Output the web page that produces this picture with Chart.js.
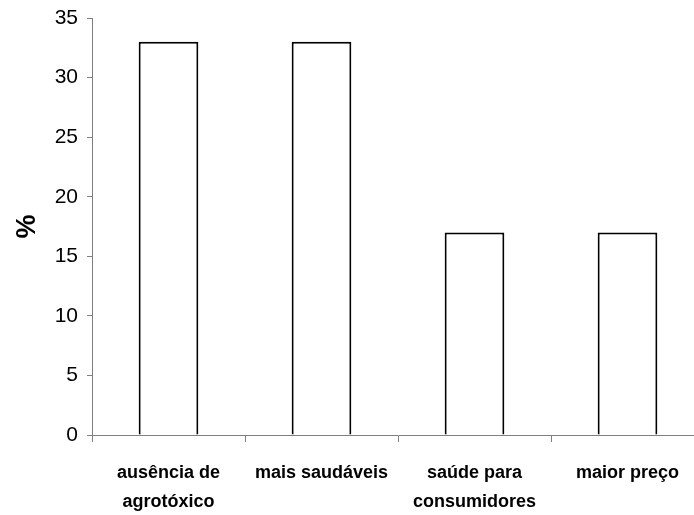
<!DOCTYPE html>
<html>
<head>
<meta charset="utf-8">
<script src="https://cdn.jsdelivr.net/npm/chart.js@4/dist/chart.umd.min.js"></script>
<style>
  html, body { margin: 0; padding: 0; background: #fff; overflow: hidden; }
  #wrap { width: 710px; height: 515px; position: relative; }
</style>
</head>
<body>
<div id="wrap"><canvas id="c"></canvas></div>
<script>
// Reasons given, share of respondents (%)
const categories = [
  ['ausência de', 'agrotóxico'],
  'mais saudáveis',
  ['saúde para', 'consumidores'],
  'maior preço'
];
const percentValues = [33, 33, 17, 17];
const yTicks = [0, 5, 10, 15, 20, 25, 30, 35];

const FONT = '"Liberation Sans Narrow", "Liberation Sans", Arial, sans-serif';

new Chart(document.getElementById('c'), {
  type: 'bar',
  data: {
    labels: categories,
    datasets: [{
      data: percentValues,
      backgroundColor: '#ffffff',
      borderColor: '#000000',
      borderWidth: 2,
      borderSkipped: 'bottom',
      categoryPercentage: 1.0,
      barPercentage: 0.39
    }]
  },
  options: {
    responsive: true,
    maintainAspectRatio: false,
    animation: false,
    layout: { padding: { top: 18, right: 6, left: 0, bottom: 0 } },
    plugins: { legend: { display: false }, tooltip: { enabled: false } },
    scales: {
      x: {
        offset: true,
        grid: {
          offset: true,
          drawOnChartArea: false,
          drawTicks: true,
          tickLength: 7,
          color: '#808080'
        },
        border: { display: true, color: '#808080', width: 1 },
        ticks: {
          color: '#000',
          font: { family: FONT, size: 18, weight: 'bold', lineHeight: '29px' },
          padding: 17,
          maxRotation: 0,
          autoSkip: false
        },
        afterFit(scale) { scale.height = 80; scale.paddingLeft = 0; scale.paddingRight = 0; }
      },
      y: {
        min: 0,
        max: 35,
        afterBuildTicks(scale) { scale.ticks = yTicks.map(v => ({ value: v })); },
        grid: {
          drawOnChartArea: false,
          drawTicks: true,
          tickLength: 5,
          color: '#808080'
        },
        border: { display: true, color: '#808080', width: 1 },
        ticks: {
          color: '#000',
          font: { family: FONT, size: 21 },
          padding: 9
        },
        title: {
          display: true,
          text: '%',
          color: '#000',
          font: { family: FONT, size: 27, weight: 'bold' },
          padding: { top: 11, bottom: 0 }
        },
        afterFit(scale) { scale.width = 92; scale.paddingTop = 0; scale.paddingBottom = 0; }
      }
    }
  }
});
</script>
</body>
</html>
